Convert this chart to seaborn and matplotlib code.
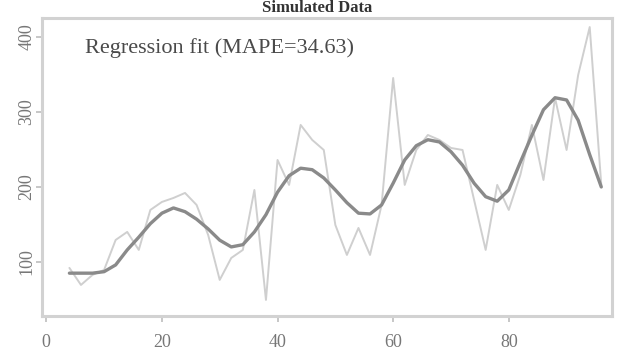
import matplotlib
matplotlib.use("Agg")
import matplotlib.pyplot as plt
import numpy as np
import pandas as pd
import seaborn as sns

# Observed series and the fitted regression curve (one value every 2 time steps)
time_index = list(range(4, 97, 2))
observed = [92.0, 69.3, 82.7, 89.3, 129.3, 140.0, 116.0, 169.3, 180.0, 185.3,
            192.0, 176.0, 136.0, 76.0, 105.3, 116.0, 196.0, 49.3, 236.0, 202.7,
            282.7, 262.7, 249.3, 149.3, 109.3, 145.3, 109.3, 176.0, 345.3, 202.7,
            249.3, 269.3, 262.7, 252.0, 249.3, 182.7, 116.0, 202.7, 169.3, 216.0,
            282.7, 209.3, 318.7, 249.3, 349.3, 413.3, 202.7]
fitted = [85, 85, 85, 87, 96, 116, 133, 151, 165, 172,
          167, 157, 144, 129, 120, 123, 140, 163, 193, 215,
          225, 223, 212, 196, 179, 165, 164, 176, 205, 236,
          255, 263, 260, 247, 229, 205, 187, 181, 196, 233,
          269, 303, 319, 316, 289, 243, 200]
x_ticks = [0, 20, 40, 60, 80]
y_ticks = [100, 200, 300, 400]
title_text = "Simulated Data"
fit_label = "Regression fit (MAPE=34.63)"

df = pd.DataFrame({"t": time_index, "observed": observed, "fitted": fitted})

sns.set_theme(style="white")
plt.rcParams["font.family"] = ["Liberation Serif", "DejaVu Serif"]

fig = plt.figure(figsize=(6.21, 3.51), dpi=100)
ax = fig.add_axes([0.068, 0.10, 0.917, 0.848])

sns.lineplot(data=df, x="t", y="observed", ax=ax, color="#cfcfcf", linewidth=1.4)
sns.lineplot(data=df, x="t", y="fitted", ax=ax, color="#8a8a8a", linewidth=2.4)

ax.set_xlim(-0.7, 97.8)
ax.set_ylim(28, 425)
ax.set_xticks(x_ticks)
ax.set_yticks(y_ticks)
ax.set_xlabel("")
ax.set_ylabel("")
ax.tick_params(axis="both", which="both", direction="out", length=4, width=1.2,
               color="#bdbdbd", labelsize=13, labelcolor="#777777",
               bottom=True, left=True)
ax.tick_params(axis="x", pad=9)
ax.tick_params(axis="y", pad=1)
for lab in ax.get_yticklabels():
    lab.set_rotation(90)
    lab.set_va("center")
for side in ax.spines.values():
    side.set_color("#d2d2d2")
    side.set_linewidth(2.2)

ax.text(0.075, 0.90, fit_label, transform=ax.transAxes, fontsize=16,
        color="#4a4a4a", ha="left", va="center")
fig.text(0.51, 0.999, title_text, fontsize=12, fontweight="bold",
         color="#333333", ha="center", va="top")

fig.savefig("out.png", dpi=100)
